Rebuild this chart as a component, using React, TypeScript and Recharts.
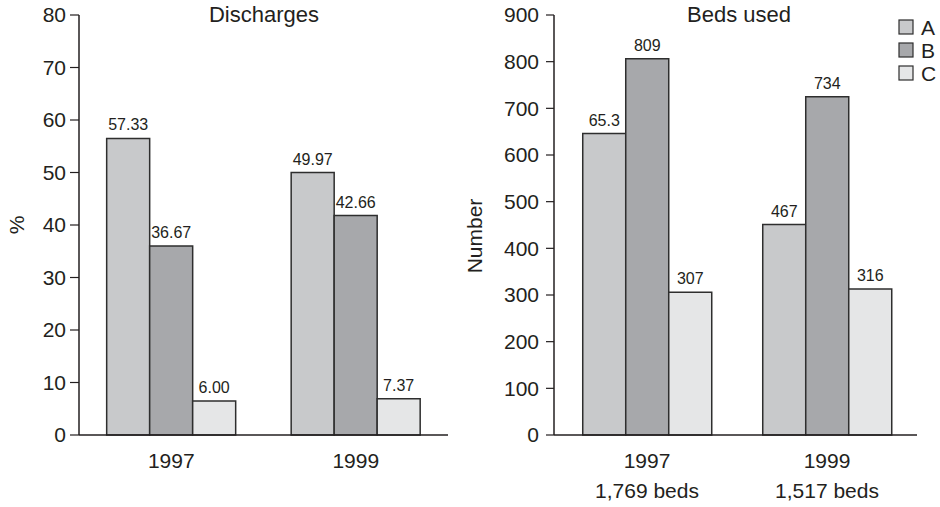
import React from 'react';
import { BarChart, Bar, XAxis, YAxis, LabelList, Customized } from 'recharts';

// ---- data ----
const years = ['1997', '1999'];
const bedTotals = ['1,769 beds', '1,517 beds'];
const seriesNames = ['A', 'B', 'C'];

const dischargesA = [56.5, 50.0];
const dischargesB = [36.0, 41.8];
const dischargesC = [6.5, 6.9];
const dischargesLabelA = ['57.33', '49.97'];
const dischargesLabelB = ['36.67', '42.66'];
const dischargesLabelC = ['6.00', '7.37'];

const bedsA = [646, 451];
const bedsB = [806, 725];
const bedsC = [306, 313];
const bedsLabelA = ['65.3', '467'];
const bedsLabelB = ['809', '734'];
const bedsLabelC = ['307', '316'];

const dischargeTicks = [0, 10, 20, 30, 40, 50, 60, 70, 80];
const bedTicks = [0, 100, 200, 300, 400, 500, 600, 700, 800, 900];

// ---- styles ----
const FONT = '"Liberation Sans", Arial, Helvetica, sans-serif';
const INK = '#231f20';
const COLORS: Record<string, string> = { A: '#c8c9cb', B: '#a7a8ab', C: '#e5e6e7' };
const BAR_STROKE = '#2e2e2e';

const dischargeData = years.map((y, i) => ({
  year: y,
  A: dischargesA[i],
  B: dischargesB[i],
  C: dischargesC[i],
  lA: dischargesLabelA[i],
  lB: dischargesLabelB[i],
  lC: dischargesLabelC[i],
}));

const bedData = years.map((y, i) => ({
  year: y,
  beds: bedTotals[i],
  A: bedsA[i],
  B: bedsB[i],
  C: bedsC[i],
  lA: bedsLabelA[i],
  lB: bedsLabelB[i],
  lC: bedsLabelC[i],
}));

const tickStyle = { fontSize: 21, fill: INK, fontFamily: FONT };
const axisLine = { stroke: INK, strokeWidth: 1.5 };

const TwoLineTick = (props: any) => {
  const { x, y, payload, index } = props;
  return (
    <text x={x} y={y} textAnchor="middle" fill={INK} fontSize={21} fontFamily={FONT}>
      <tspan x={x} dy="0.71em">{payload.value}</tspan>
      <tspan x={x} dy={30}>{bedTotals[index]}</tspan>
    </text>
  );
};

const LeftDecor = () => (
  <g fontFamily={FONT} fill={INK}>
    <text x={264} y={22} textAnchor="middle" fontSize={22} fill={INK}>Discharges</text>
    <text x={16} y={225} transform="rotate(-90 16 225)" textAnchor="middle" dominantBaseline="central" fontSize={21} fill={INK}>%</text>
  </g>
);

const RightDecor = () => (
  <g fontFamily={FONT} fill={INK}>
    <text x={739 - 460} y={22} textAnchor="middle" fontSize={22} fill={INK}>Beds used</text>
    <text x={474 - 460} y={236} transform={`rotate(-90 ${474 - 460} 236)`} textAnchor="middle" dominantBaseline="central" fontSize={21} fill={INK}>Number</text>
    {seriesNames.map((s, i) => {
      const cy = 27 + i * 23;
      return (
        <g key={s}>
          <rect x={899 - 460} y={cy - 7} width={14} height={14} fill={COLORS[s]} stroke={BAR_STROKE} strokeWidth={1.2} />
          <text x={921 - 460} y={cy} dominantBaseline="central" fontSize={21} fill={INK}>{s}</text>
        </g>
      );
    })}
  </g>
);

export default function App() {
  return (
    <div style={{ position: 'absolute', left: 0, top: 0, width: 940, height: 507, background: '#fff', fontFamily: FONT }}>
      <div style={{ position: 'absolute', left: 0, top: 0 }}>
        <BarChart
          width={470}
          height={507}
          data={dischargeData}
          margin={{ top: 15, right: 22, bottom: 0, left: 0 }}
          barCategoryGap="15%"
          barGap={0}
        >
          <XAxis
            dataKey="year"
            height={72}
            tickLine={false}
            tickSize={0}
            tickMargin={18}
            axisLine={axisLine}
            tick={tickStyle}
          />
          <YAxis
            width={79}
            domain={[0, 80]}
            ticks={dischargeTicks}
            interval={0}
            tickSize={9}
            tickMargin={4}
            tickLine={{ stroke: INK, strokeWidth: 1.2 }}
            axisLine={axisLine}
            tick={tickStyle}
          />
          {seriesNames.map((s) => (
            <Bar key={s} dataKey={s} fill={COLORS[s]} stroke={BAR_STROKE} strokeWidth={1.5} isAnimationActive={false}>
              <LabelList dataKey={'l' + s} position="top" offset={8} fill={INK} fontSize={16} fontFamily={FONT} />
            </Bar>
          ))}
          <Customized component={LeftDecor} />
        </BarChart>
      </div>
      <div style={{ position: 'absolute', left: 460, top: 0 }}>
        <BarChart
          width={480}
          height={507}
          data={bedData}
          margin={{ top: 15, right: 23, bottom: 0, left: 0 }}
          barCategoryGap="14.3%"
          barGap={0}
        >
          <XAxis
            dataKey="year"
            height={72}
            tickLine={false}
            tickSize={0}
            tickMargin={18}
            axisLine={axisLine}
            tick={<TwoLineTick />}
            padding={{ left: 3, right: 0 }}
          />
          <YAxis
            width={94}
            domain={[0, 900]}
            ticks={bedTicks}
            interval={0}
            tickSize={8}
            tickMargin={7}
            tickLine={{ stroke: INK, strokeWidth: 1.2 }}
            axisLine={axisLine}
            tick={tickStyle}
          />
          {seriesNames.map((s) => (
            <Bar key={s} dataKey={s} fill={COLORS[s]} stroke={BAR_STROKE} strokeWidth={1.5} isAnimationActive={false}>
              <LabelList dataKey={'l' + s} position="top" offset={8} fill={INK} fontSize={16} fontFamily={FONT} />
            </Bar>
          ))}
          <Customized component={RightDecor} />
        </BarChart>
      </div>
    </div>
  );
}
